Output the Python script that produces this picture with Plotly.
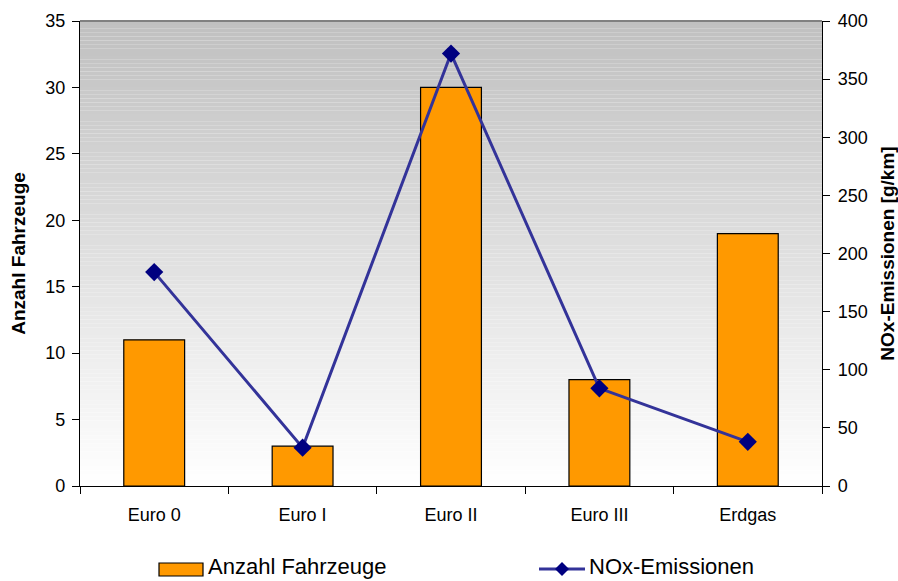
import plotly.graph_objects as go

# Fahrzeugklassen und Messwerte
categories = ["Euro 0", "Euro I", "Euro II", "Euro III", "Erdgas"]
anzahl_fahrzeuge = [11, 3, 30, 8, 19]
nox_emissionen = [184, 33, 372, 84, 38]

BAR_COLOR = "#FF9900"
LINE_COLOR = "#333399"
MARKER_COLOR = "#000080"

W, H = 898, 581
ML, MR, MT, MB = 80, 76, 21, 95
PW, PH = W - ML - MR, H - MT - MB


def px(x):
    """Pixel column -> paper x."""
    return (x - ML) / PW


def py(y):
    """Pixel row -> paper y."""
    return (H - MB - y) / PH


fig = go.Figure()

fig.add_trace(go.Bar(
    x=categories, y=anzahl_fahrzeuge, name="Anzahl Fahrzeuge",
    marker=dict(color=BAR_COLOR, line=dict(color="black", width=1.2)),
    width=0.41, yaxis="y",
))
fig.add_trace(go.Scatter(
    x=categories, y=nox_emissionen, name="NOx-Emissionen",
    mode="lines+markers",
    line=dict(color=LINE_COLOR, width=3),
    marker=dict(symbol="diamond", size=14, color=MARKER_COLOR),
    yaxis="y2",
))

# Vertical grey-to-white background gradient inside the plot area
shapes = []
n = 120
for i in range(n):
    t = i / (n - 1)  # 0 at top, 1 at bottom
    v = int(round(192 + (255 - 192) * t))
    shapes.append(dict(
        type="rect", xref="x domain", yref="y domain",
        x0=0, x1=1, y0=1 - (i + 1) / n, y1=1 - i / n,
        fillcolor=f"rgb({v},{v},{v})", line=dict(width=0), layer="below",
    ))
shapes.append(dict(type="line", xref="x domain", yref="y domain",
                   x0=0, x1=1, y0=1, y1=1, line=dict(color="#808080", width=2)))

# Legend below the chart, drawn with shapes and text
leg_y = 569
shapes.append(dict(type="rect", xref="paper", yref="paper",
                   x0=px(159), x1=px(203), y0=py(576), y1=py(563),
                   fillcolor=BAR_COLOR, line=dict(color="black", width=1.2)))
shapes.append(dict(type="line", xref="paper", yref="paper",
                   x0=px(539), x1=px(585), y0=py(leg_y), y1=py(leg_y),
                   line=dict(color=LINE_COLOR, width=3)))
cx, r = 562, 7
shapes.append(dict(type="path", xref="paper", yref="paper",
                   path=(f"M {px(cx - r)} {py(leg_y)} L {px(cx)} {py(leg_y - r)} "
                         f"L {px(cx + r)} {py(leg_y)} L {px(cx)} {py(leg_y + r)} Z"),
                   fillcolor=MARKER_COLOR, line=dict(width=0)))

font = dict(family="Liberation Sans, Arial, sans-serif", size=18, color="black")
leg_font = dict(family="Liberation Sans, Arial, sans-serif", size=22, color="black")

text_y = 566
annotations = [
    dict(text="Anzahl Fahrzeuge", xref="paper", yref="paper", x=px(207), y=py(text_y),
         xanchor="left", yanchor="middle", showarrow=False, font=leg_font, borderpad=0),
    dict(text="NOx-Emissionen", xref="paper", yref="paper", x=px(588), y=py(text_y),
         xanchor="left", yanchor="middle", showarrow=False, font=leg_font, borderpad=0),
]

fig.update_layout(
    width=W, height=H,
    margin=dict(l=ML, r=MR, t=MT, b=MB, autoexpand=False),
    paper_bgcolor="white", plot_bgcolor="white",
    font=font,
    shapes=shapes,
    annotations=annotations,
    showlegend=False,
    xaxis=dict(showline=True, linecolor="black", linewidth=1.2,
               ticks="outside", tickson="boundaries", ticklen=7, tickcolor="black",
               showgrid=False, tickfont=font, range=[-0.5, 4.5],
               ticklabelstandoff=12, automargin=False),
    yaxis=dict(range=[0, 35], dtick=5, showline=True, linecolor="black", linewidth=1.2,
               ticks="outside", ticklen=7, tickcolor="black", showgrid=False, zeroline=False,
               title=dict(text="<b>Anzahl Fahrzeuge</b>", font=dict(size=19), standoff=14),
               tickfont=font, ticklabelstandoff=3, automargin=False),
    yaxis2=dict(range=[0, 400], dtick=50, overlaying="y", side="right",
                showline=True, linecolor="black", linewidth=1.2,
                ticks="outside", ticklen=7, tickcolor="black", showgrid=False, zeroline=False,
                title=dict(text="<b>NOx-Emissionen [g/km]</b>", font=dict(size=19), standoff=18),
                tickfont=font, ticklabelstandoff=4, automargin=False),
)

fig.write_html("out.html")
